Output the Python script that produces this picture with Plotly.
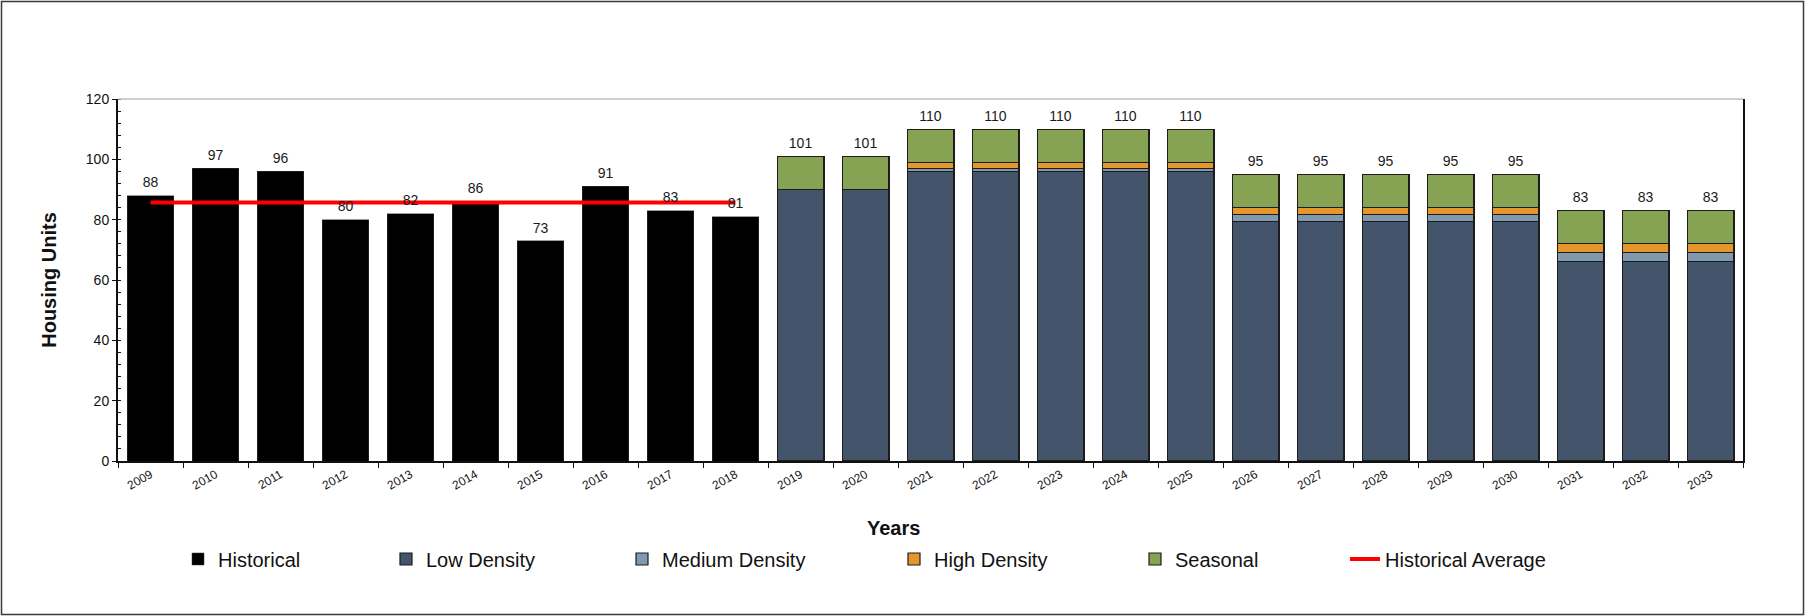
import plotly.graph_objects as go

# ---------------- data ----------------
hist_years = [str(y) for y in range(2009, 2019)]
hist_values = [88, 97, 96, 80, 82, 86, 73, 91, 83, 81]
hist_average = 85.7

fc_years = [str(y) for y in range(2019, 2034)]
low_density = [90, 90, 96, 96, 96, 96, 96, 79.4, 79.4, 79.4, 79.4, 79.4, 66.2, 66.2, 66.2]
medium_density = [0, 0, 1, 1, 1, 1, 1, 2.3, 2.3, 2.3, 2.3, 2.3, 2.9, 2.9, 2.9]
high_density = [0, 0, 2, 2, 2, 2, 2, 2.3, 2.3, 2.3, 2.3, 2.3, 2.9, 2.9, 2.9]
seasonal = [11, 11, 11, 11, 11, 11, 11, 11, 11, 11, 11, 11, 11, 11, 11]

y_ticks = [0, 20, 40, 60, 80, 100, 120]

# ---------------- layout geometry ----------------
W, H = 1805, 616
L, R, T, B = 118, 62, 99, 155
PW = W - L - R
PH = H - T - B


def px_x(px):
    return (px - L) / PW


def px_y(py):
    return (H - B - py) / PH


FONT = "Liberation Sans, Arial, sans-serif"
C_LOW = "#44546A"
C_MED = "#8098B0"
C_HIGH = "#E5962C"
C_SEAS = "#85A352"
EDGE = "#1c1c1c"

fig = go.Figure()

fig.add_trace(go.Bar(x=hist_years, y=hist_values, name="Historical",
                     marker=dict(color="#000000", line=dict(color="#3a3a3a", width=0.5)),
                     legend="legend"))
fig.add_trace(go.Bar(x=fc_years, y=low_density, name="Low Density",
                     marker=dict(color=C_LOW, line=dict(color=EDGE, width=1.2)),
                     legend="legend2"))
fig.add_trace(go.Bar(x=fc_years, y=medium_density, name="Medium Density",
                     marker=dict(color=C_MED, line=dict(color=EDGE, width=1.2)),
                     legend="legend3"))
fig.add_trace(go.Bar(x=fc_years, y=high_density, name="High Density",
                     marker=dict(color=C_HIGH, line=dict(color=EDGE, width=1.2)),
                     legend="legend4"))
fig.add_trace(go.Bar(x=fc_years, y=seasonal, name="Seasonal",
                     marker=dict(color=C_SEAS, line=dict(color=EDGE, width=1.2)),
                     legend="legend5"))
fig.add_trace(go.Scatter(x=hist_years, y=[hist_average] * len(hist_years),
                         mode="lines", name="Historical Average",
                         line=dict(color="#FF0000", width=4),
                         legend="legend6"))

# totals labels
totals = hist_values + [round(a + b + c + d) for a, b, c, d in
                        zip(low_density, medium_density, high_density, seasonal)]
fig.add_trace(go.Scatter(x=hist_years + fc_years, y=totals, mode="markers+text",
                         marker=dict(size=6, color="rgba(0,0,0,0)"),
                         text=[str(t) for t in totals], textposition="top center",
                         textfont=dict(family=FONT, size=14, color="#1a1a1a"),
                         showlegend=False, hoverinfo="skip"))

# legends: one entry each, positioned like the reference
legend_text_x = [218, 426, 662, 934, 1175, 1385]
legend_names = ["legend", "legend2", "legend3", "legend4", "legend5", "legend6"]
legend_layout = {}
for nm, tx in zip(legend_names, legend_text_x):
    legend_layout[nm] = dict(
        x=px_x(tx - 40), xanchor="left",
        y=px_y(559), yanchor="middle",
        orientation="h", bgcolor="rgba(0,0,0,0)", borderwidth=0,
        font=dict(family=FONT, size=20, color="#111111"),
        tracegroupgap=0,
    )

fig.update_layout(
    width=W, height=H,
    margin=dict(l=L, r=R, t=T, b=B, autoexpand=False),
    paper_bgcolor="white", plot_bgcolor="white",
    barmode="stack", bargap=0.28,
    font=dict(family=FONT, color="#111111"),
    **legend_layout,
)

fig.update_xaxes(
    type="category", range=[-0.5, 24.5],
    showline=True, linecolor="#111111", linewidth=2,
    ticks="outside", ticklen=5, tickcolor="#111111", tickwidth=1,
    tickson="boundaries", tickangle=-30,
    tickfont=dict(family=FONT, size=12, color="#111111"),
    showgrid=False, zeroline=False,
)
fig.update_yaxes(
    range=[0, 120], tickvals=y_ticks,
    showline=True, linecolor="#111111", linewidth=2, mirror=True,
    ticks="outside", ticklen=4, tickcolor="#111111", tickwidth=1,
    tickfont=dict(family=FONT, size=14, color="#111111"),
    minor=dict(dtick=4, ticks="inside", ticklen=3, tickcolor="#111111", tickwidth=1),
    showgrid=False, zeroline=False,
    title=dict(text="<b>Housing Units</b>", font=dict(family=FONT, size=20, color="#111111"),
               standoff=24),
)

# plot area top border (light gray)
fig.add_shape(type="line", xref="paper", yref="paper", x0=0, x1=1, y0=1, y1=1,
              line=dict(color="#BFBFBF", width=1.5))
# outer frame
fig.add_shape(type="rect", xref="paper", yref="paper",
              x0=px_x(1.5), x1=px_x(W - 1.5), y0=px_y(H - 1.5), y1=px_y(1.5),
              line=dict(color="#3a3a3a", width=1.5), layer="below")

# x axis title placed like the reference
fig.add_annotation(text="<b>Years</b>", xref="paper", yref="paper",
                   x=px_x(893), y=px_y(528), xanchor="center", yanchor="middle",
                   showarrow=False, font=dict(family=FONT, size=20, color="#111111"))

fig.write_html("out.html")
